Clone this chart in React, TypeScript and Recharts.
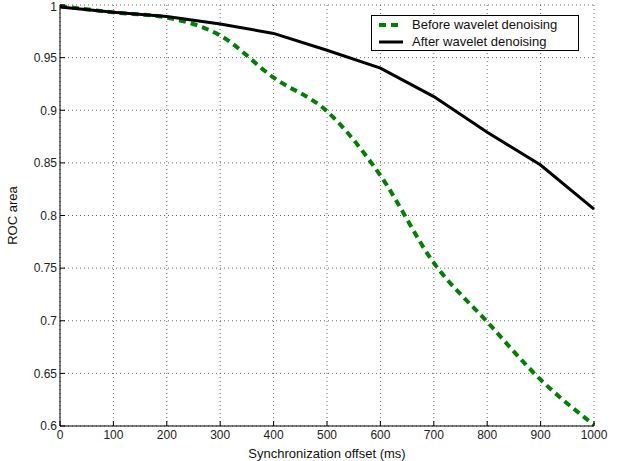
import { LineChart, Line, XAxis, YAxis, CartesianGrid, Label } from "recharts"

const offsets = [0, 100, 200, 300, 400, 500, 600, 700, 800, 900, 1000]
const beforeDenoising = [0.999, 0.993, 0.988, 0.971, 0.931, 0.899, 0.838, 0.755, 0.699, 0.644, 0.601]
const afterDenoising = [0.998, 0.993, 0.989, 0.982, 0.973, 0.957, 0.94, 0.913, 0.879, 0.848, 0.806]
const yTicks = [0.6, 0.65, 0.7, 0.75, 0.8, 0.85, 0.9, 0.95, 1]

const data = offsets.map((x, i) => ({
  x,
  before: beforeDenoising[i],
  after: afterDenoising[i],
}))

const font = "'Liberation Sans', Arial, sans-serif"
const tickStyle = { fontSize: 12, fill: "#222", fontFamily: font }

const legendRows = [
  { label: "Before wavelet denoising", color: "#008000", dash: "7 5", w: 4 },
  { label: "After wavelet denoising", color: "#000", dash: undefined, w: 3 },
]

// keeps the top label ("1") inside the picture like the original
function YTick(props: any) {
  const { x, y, payload } = props
  return (
    <text x={x} y={Math.max(y, 7)} dy="0.355em" textAnchor="end" {...tickStyle}>
      {String(+payload.value.toFixed(2))}
    </text>
  )
}

function LegendBox() {
  return (
    <div
      style={{
        position: "absolute",
        left: 371,
        top: 15,
        width: 206,
        height: 34,
        border: "1px solid #000",
        background: "#fff",
        fontFamily: font,
        fontSize: 13,
        color: "#111",
      }}
    >
      {legendRows.map((r) => (
        <div key={r.label} style={{ display: "flex", alignItems: "center", height: 17 }}>
          <svg width={40} height={17}>
            <line x1={7} y1={9} x2={31} y2={9} stroke={r.color} strokeWidth={r.w} strokeDasharray={r.dash} />
          </svg>
          <span>{r.label}</span>
        </div>
      ))}
    </div>
  )
}

export default function App() {
  return (
    <div style={{ position: "absolute", left: 0, top: 0, width: 618, height: 461, background: "#fff" }}>
      <LineChart width={618} height={461} data={data} margin={{ top: 5, right: 24, left: 0, bottom: 0 }}>
        <CartesianGrid stroke="#444" strokeDasharray="1 3" strokeWidth={0.8} />
        <XAxis
          dataKey="x"
          type="number"
          domain={[0, 1000]}
          ticks={offsets}
          height={35}
          stroke="#000"
          tickSize={-5}
          tickMargin={9}
          tick={tickStyle}
          interval={0}
        >
          <Label value="Synchronization offset (ms)" position="insideBottom" offset={3} style={{ ...tickStyle, fontSize: 13, fill: "#111" }} />
        </XAxis>
        <XAxis
          xAxisId="top"
          dataKey="x"
          type="number"
          domain={[0, 1000]}
          ticks={offsets}
          orientation="top"
          height={0}
          stroke="#000"
          tickSize={-5}
          tick={false}
        />
        <YAxis
          type="number"
          domain={[0.6, 1]}
          ticks={yTicks}
          width={60}
          stroke="#000"
          tickSize={-5}
          tickMargin={8}
          tick={<YTick />}
          interval={0}
        >
          <Label value="ROC area" angle={-90} position="insideLeft" offset={12} style={{ ...tickStyle, fontSize: 13, fill: "#111", textAnchor: "middle" }} />
        </YAxis>
        <YAxis
          yAxisId="right"
          type="number"
          domain={[0.6, 1]}
          ticks={yTicks}
          orientation="right"
          width={0}
          stroke="#000"
          tickSize={-5}
          tick={false}
        />
        <Line
          type="monotone"
          dataKey="before"
          stroke="#008000"
          strokeWidth={4}
          strokeDasharray="7 5"
          dot={false}
          isAnimationActive={false}
        />
        <Line
          type="linear"
          dataKey="after"
          stroke="#000"
          strokeWidth={3}
          dot={false}
          isAnimationActive={false}
        />
      </LineChart>
      <LegendBox />
    </div>
  )
}
